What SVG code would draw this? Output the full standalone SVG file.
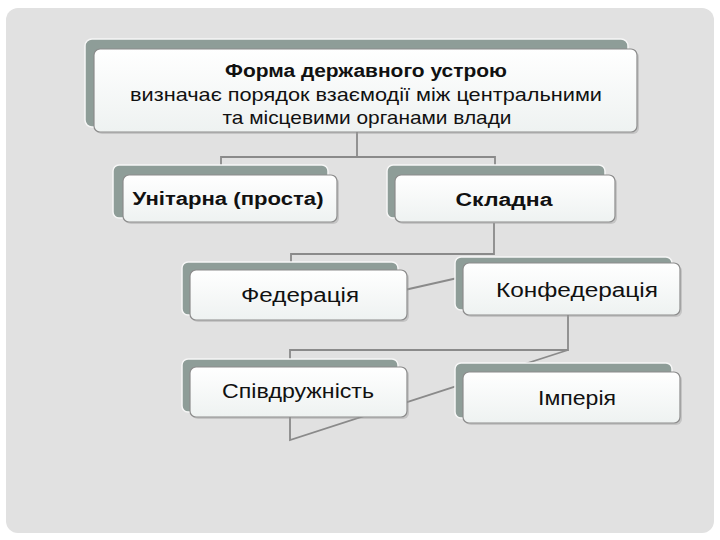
<svg xmlns="http://www.w3.org/2000/svg" width="720" height="540" viewBox="0 0 720 540">
<defs>
<linearGradient id="fg" x1="0" y1="0" x2="0" y2="1">
<stop offset="0" stop-color="#ffffff"/>
<stop offset="1" stop-color="#eef2f1"/>
</linearGradient>
<style>
.back{fill:#8e9d98;stroke:#f6f6f6;stroke-width:1.5}
.shadow{fill:#9a9a9a;opacity:0.4}
.front{fill:url(#fg);stroke:#8c8c8c;stroke-width:1.2}
.conn{fill:none;stroke:#8a8a8a;stroke-width:1.8}
text{font-family:"Liberation Sans",Arial,sans-serif;fill:#111;text-anchor:middle}
.b{font-weight:bold}
</style>
</defs>
<rect x="0" y="0" width="720" height="540" fill="#ffffff"/>
<rect x="6" y="8" width="708" height="525" rx="12" fill="#e1e1e1"/>
<g id="connectors">
<polyline class="conn" points="357,132 357,157"/>
<polyline class="conn" points="221,165 221,157 495,157 495,165"/>
<polyline class="conn" points="494,223 494,254 291,254 291,262"/>
<line class="conn" x1="400" y1="291" x2="462" y2="277"/>
<polyline class="conn" points="568,315 568,350 290,350 290,359"/>
<polyline class="conn" points="568,350 290,440 290,415"/>
</g>
<g id="node-top">
<rect class="back" x="85" y="39" width="543" height="88" rx="7"/>
<rect class="shadow" x="96" y="51" width="543" height="83" rx="6"/>
<rect class="front" x="94" y="49" width="543" height="83" rx="6"/>
<text class="b" x="366" y="77" font-size="18" textLength="282" lengthAdjust="spacingAndGlyphs">Форма державного устрою</text>
<text x="366" y="101" font-size="19" textLength="472" lengthAdjust="spacingAndGlyphs">визначає порядок взаємодії між центральними</text>
<text x="367" y="124" font-size="19" textLength="289" lengthAdjust="spacingAndGlyphs">та місцевими органами влади</text>
</g>
<g id="node-unitary">
<rect class="back" x="113" y="165" width="215" height="53" rx="6"/>
<rect class="shadow" x="125" y="177" width="214" height="47" rx="6"/>
<rect class="front" x="123" y="175" width="214" height="47" rx="6"/>
<text class="b" x="228" y="205" font-size="18" textLength="191" lengthAdjust="spacingAndGlyphs">Унітарна (проста)</text>
</g>
<g id="node-complex">
<rect class="back" x="387" y="165" width="218" height="53" rx="6"/>
<rect class="shadow" x="397" y="177" width="220" height="47" rx="6"/>
<rect class="front" x="395" y="175" width="220" height="47" rx="6"/>
<text class="b" x="504" y="206" font-size="18" textLength="97" lengthAdjust="spacingAndGlyphs">Складна</text>
</g>
<g id="node-federation">
<rect class="back" x="182" y="262" width="216" height="53" rx="6"/>
<rect class="shadow" x="192" y="272" width="217" height="50" rx="6"/>
<rect class="front" x="190" y="270" width="217" height="50" rx="6"/>
<text x="300" y="302" font-size="20" textLength="118" lengthAdjust="spacingAndGlyphs">Федерація</text>
</g>
<g id="node-confederation">
<rect class="back" x="455" y="257" width="217" height="53" rx="6"/>
<rect class="shadow" x="465" y="265" width="217" height="52" rx="6"/>
<rect class="front" x="463" y="263" width="217" height="52" rx="6"/>
<text x="577" y="297" font-size="20" textLength="162" lengthAdjust="spacingAndGlyphs">Конфедерація</text>
</g>
<g id="node-commonwealth">
<rect class="back" x="182" y="359" width="216" height="53" rx="6"/>
<rect class="shadow" x="192" y="369" width="217" height="50" rx="6"/>
<rect class="front" x="190" y="367" width="217" height="50" rx="6"/>
<text x="298" y="398" font-size="20" textLength="152" lengthAdjust="spacingAndGlyphs">Співдружність</text>
</g>
<g id="node-empire">
<rect class="back" x="455" y="363" width="217" height="55" rx="6"/>
<rect class="shadow" x="465" y="374" width="217" height="51" rx="6"/>
<rect class="front" x="463" y="372" width="217" height="51" rx="6"/>
<text x="577" y="405" font-size="20" textLength="78" lengthAdjust="spacingAndGlyphs">Імперія</text>
</g>
</svg>
